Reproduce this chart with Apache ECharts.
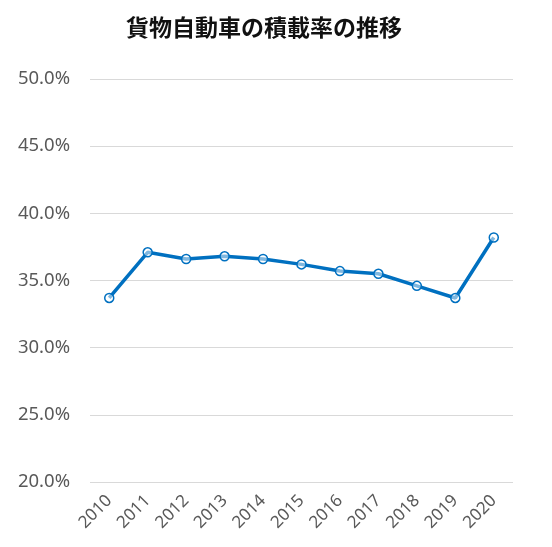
<!DOCTYPE html>
<html>
<head>
<meta charset="utf-8">
<script src="https://cdn.jsdelivr.net/npm/echarts@6/dist/echarts.min.js"></script>
<style>
  html, body { margin: 0; padding: 0; background: #fff; }
  #main { width: 552px; height: 547px; }
</style>
</head>
<body>
<div id="main"></div>
<script>
const years = ["2010", "2011", "2012", "2013", "2014", "2015", "2016", "2017", "2018", "2019", "2020"];
const loadRate = [33.7, 37.1, 36.6, 36.8, 36.6, 36.2, 35.7, 35.5, 34.6, 33.7, 38.2];
const yTicks = [20, 25, 30, 35, 40, 45, 50];

const chart = echarts.init(document.getElementById("main"));
chart.setOption({
  animation: false,
  title: {
    text: "貨物自動車の積載率の推移",
    left: 259,
    top: 11,
    textAlign: "center",
    textStyle: {
      fontFamily: "Noto Sans CJK JP",
      fontSize: 23,
      fontWeight: "bold",
      color: "#111",
    },
  },
  grid: { left: 90, right: 39, top: 79, bottom: 65 },
  xAxis: {
    type: "category",
    data: years,
    axisLine: { show: false },
    axisTick: { show: false },
    axisLabel: {
      rotate: 45,
      margin: 16,
      fontFamily: "Noto Sans",
      fontSize: 17,
      color: "#595959",
    },
  },
  yAxis: {
    type: "value",
    min: yTicks[0],
    max: yTicks[yTicks.length - 1],
    interval: 5,
    axisLabel: {
      margin: 20,
      fontFamily: "Noto Sans",
      fontSize: 18.5,
      color: "#595959",
      formatter: (v) => v.toFixed(1) + "%",
    },
    splitLine: { lineStyle: { color: "#d9d9d9", width: 1 } },
  },
  series: [
    {
      type: "line",
      data: loadRate,
      symbol: "circle",
      symbolSize: 9,
      lineStyle: { color: "#0070C0", width: 3.5 },
      itemStyle: { color: "rgba(255,255,255,0.5)", borderColor: "#0070C0", borderWidth: 1.5 },
    },
  ],
});
</script>
</body>
</html>
